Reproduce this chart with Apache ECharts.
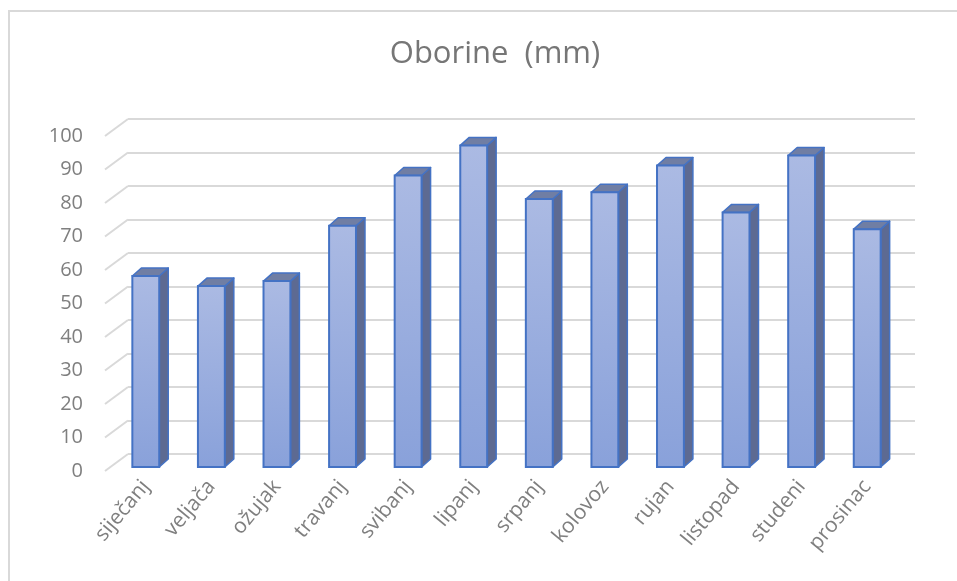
<!DOCTYPE html>
<html>
<head>
<meta charset="utf-8">
<title>Oborine (mm)</title>
<script src="https://cdn.jsdelivr.net/npm/echarts@6/dist/echarts.min.js"></script>
<style>
  html, body { margin: 0; padding: 0; background: #ffffff; }
  #chart { width: 957px; height: 581px; }
</style>
</head>
<body>
<div id="chart"></div>
<script>
// Monthly precipitation, mm
const months = ['siječanj', 'veljača', 'ožujak', 'travanj', 'svibanj', 'lipanj',
                'srpanj', 'kolovoz', 'rujan', 'listopad', 'studeni', 'prosinac'];
const rainfall = [57, 54, 55.5, 72, 87, 96, 80, 82, 90, 76, 93, 71];
const yTicks = [0, 10, 20, 30, 40, 50, 60, 70, 80, 90, 100];

// Pseudo-3D layout: front plane (labels), bar plane, back wall (grid lines)
const PLOT_W = 787, PLOT_H = 335;
const FRONT = { left: 105, top: 136 };
const WALL_DX = 23, WALL_DY = 17;    // offset of the back wall from the front plane
const BAR_DX = 8, BAR_DY = 4;        // offset of the bar fronts from the front plane
const DEPTH_X = 9, DEPTH_Y = 8;      // depth of each column

const FONT = '"Open Sans", "Noto Sans", sans-serif';
const TEXT_GRAY = '#7f7f7f';
const GRID_GRAY = '#d9d9d9';
const EDGE_BLUE = '#4472c4';

const chart = echarts.init(document.getElementById('chart'), null, { renderer: 'canvas' });

function columnItem(params, api) {
  const idx = api.value(0);
  const val = api.value(1);
  const top = api.coord([idx, val]);
  const base = api.coord([idx, 0]);
  const w = api.size([1, 0])[0] * 0.41;
  const x = top[0] - w / 2;
  const ty = top[1];
  const by = base[1];
  return {
    type: 'group',
    children: [
      {
        type: 'polygon',
        shape: { points: [[x + w, ty], [x + w + DEPTH_X, ty - DEPTH_Y], [x + w + DEPTH_X, by - DEPTH_Y], [x + w, by]] },
        style: { fill: '#5d6a92', stroke: EDGE_BLUE, lineWidth: 1.5, lineJoin: 'round' }
      },
      {
        type: 'polygon',
        shape: { points: [[x, ty], [x + DEPTH_X, ty - DEPTH_Y], [x + w + DEPTH_X, ty - DEPTH_Y], [x + w, ty]] },
        style: { fill: '#707ea4', stroke: EDGE_BLUE, lineWidth: 1.5, lineJoin: 'round' }
      },
      {
        type: 'rect',
        shape: { x: x, y: ty, width: w, height: by - ty },
        style: {
          fill: new echarts.graphic.LinearGradient(0, 0, 0, 1, [
            { offset: 0, color: '#abbae3' },
            { offset: 1, color: '#89a1da' }
          ]),
          stroke: EDGE_BLUE,
          lineWidth: 2
        }
      }
    ]
  };
}

function wallLinkItem(params, api) {
  const v = api.value(0);
  const p = api.coord([0, v]);
  const x0 = params.coordSys.x;
  return {
    type: 'line',
    shape: { x1: x0, y1: p[1], x2: x0 + WALL_DX, y2: p[1] - WALL_DY },
    style: { stroke: GRID_GRAY, lineWidth: 2 }
  };
}

const valueAxisBase = { type: 'value', min: 0, max: 100, interval: 10 };

chart.setOption({
  animation: false,
  backgroundColor: '#ffffff',
  title: {
    text: 'Oborine  (mm)',
    left: 490,
    top: 34,
    textAlign: 'center',
    textStyle: { fontFamily: FONT, fontSize: 31, fontWeight: 'normal', color: '#767676' }
  },
  graphic: [{
    type: 'polyline',
    shape: { points: [[9, 600], [9, 11], [970, 11]] },
    style: { stroke: GRID_GRAY, lineWidth: 2, fill: null },
    silent: true
  }],
  grid: [
    { left: FRONT.left, top: FRONT.top, width: PLOT_W, height: PLOT_H },
    { left: FRONT.left + WALL_DX, top: FRONT.top - WALL_DY, width: PLOT_W, height: PLOT_H },
    { left: FRONT.left + BAR_DX, top: FRONT.top - BAR_DY, width: PLOT_W, height: PLOT_H }
  ],
  xAxis: [
    { gridIndex: 0, type: 'category', data: months, show: false },
    { gridIndex: 1, type: 'category', data: months, show: false },
    {
      gridIndex: 2, type: 'category', data: months,
      axisLine: { show: false }, axisTick: { show: false },
      axisLabel: {
        rotate: 50, margin: 16, interval: 0,
        fontFamily: FONT, fontSize: 21, color: TEXT_GRAY
      }
    }
  ],
  yAxis: [
    Object.assign({}, valueAxisBase, {
      gridIndex: 0,
      axisLine: { show: false }, axisTick: { show: false }, splitLine: { show: false },
      axisLabel: { margin: 22, fontFamily: FONT, fontSize: 20, color: TEXT_GRAY }
    }),
    Object.assign({}, valueAxisBase, {
      gridIndex: 1,
      axisLine: { show: false }, axisTick: { show: false }, axisLabel: { show: false },
      splitLine: { show: true, lineStyle: { color: GRID_GRAY, width: 2 } }
    }),
    Object.assign({}, valueAxisBase, { gridIndex: 2, show: false })
  ],
  series: [
    {
      type: 'custom',
      xAxisIndex: 0, yAxisIndex: 0,
      renderItem: wallLinkItem,
      data: yTicks.map(v => [v]),
      encode: { y: 0 },
      silent: true,
      z: 1
    },
    {
      type: 'custom',
      xAxisIndex: 2, yAxisIndex: 2,
      renderItem: columnItem,
      data: rainfall.map((v, i) => [i, v]),
      encode: { x: 0, y: 1 },
      z: 3
    }
  ]
});
</script>
</body>
</html>
